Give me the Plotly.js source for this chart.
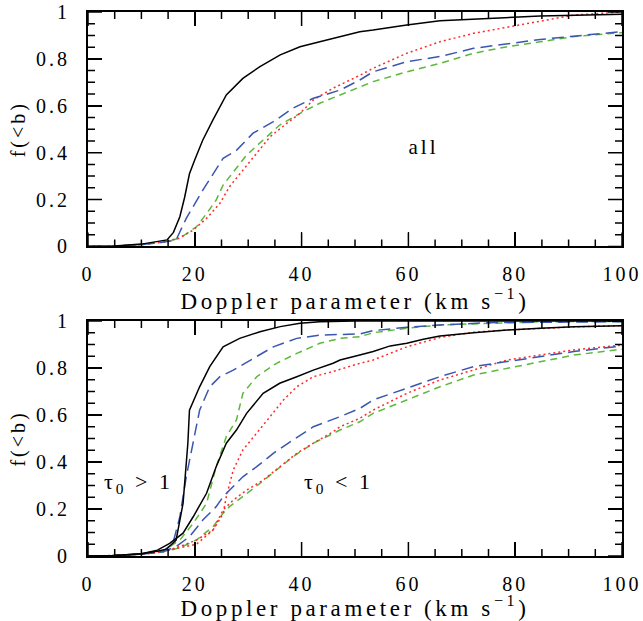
<!DOCTYPE html>
<html>
<head>
<meta charset="utf-8">
<script src="https://cdn.plot.ly/plotly-3.0.1.min.js"></script>
<style>body{margin:0;background:#fff}#chart{width:643px;height:621px}
#chart text{letter-spacing:3px}
#chart .g-xtitle text, #chart .g-x2title text{letter-spacing:3.6px}</style>
</head>
<body>
<div id="chart"></div>
<script>
// ---- Top panel ("all") ----
const allBlackX = [0,5,10,13,14.8,16,17.2,18.1,19,20,21.5,23.4,25.9,29,32.2,36,39.7,43.4,47.2,50.9,53.4,59.7,65.9,75.3,84.7,100];
const allBlackY = [0,0.002,0.01,0.02,0.028,0.06,0.127,0.21,0.31,0.37,0.454,0.54,0.646,0.717,0.767,0.817,0.852,0.873,0.895,0.916,0.923,0.945,0.963,0.973,0.983,0.99];
const allBlueX = [0,5,10,14,16.5,18.4,21.5,24,25.3,27.8,30.9,34.7,38.4,42.2,47.2,50.9,53.4,59.7,65.9,72.2,78.5,84.7,91,100];
const allBlueY = [0,0.002,0.008,0.018,0.028,0.12,0.24,0.333,0.376,0.41,0.483,0.532,0.59,0.632,0.667,0.71,0.745,0.788,0.81,0.845,0.864,0.883,0.897,0.916];
const allGreenX = [0,5,10,14,17.2,20.3,22.2,24,25.3,27.2,29.7,32.8,35.9,39.7,43.4,47.2,50.9,53.4,59.7,65.9,72.2,78.5,84.7,91,100];
const allGreenY = [0,0.002,0.008,0.018,0.035,0.084,0.14,0.198,0.262,0.319,0.39,0.454,0.518,0.568,0.611,0.646,0.679,0.703,0.745,0.781,0.824,0.852,0.873,0.895,0.912];
const allRedX = [0,5,10,14,17,19.7,22.2,24.7,26.5,29,31.6,34.1,37.2,39.7,42.2,45.9,50.9,53.4,59.7,65.9,72.2,78.5,84.7,91,100];
const allRedY = [0,0.002,0.008,0.018,0.035,0.07,0.12,0.184,0.255,0.326,0.397,0.468,0.525,0.568,0.625,0.675,0.73,0.76,0.824,0.873,0.909,0.935,0.963,0.987,1.0];

// ---- Bottom panel: tau0 > 1 ----
const hiBlackX = [0,5,10,13,14.7,16.5,17.8,18.4,18.7,19,20.9,22.8,25.3,28.4,32.2,36,39.7,43.4,50,60,100];
const hiBlackY = [0,0.002,0.01,0.02,0.029,0.068,0.224,0.38,0.48,0.62,0.72,0.806,0.89,0.926,0.954,0.976,0.99,0.997,1,1,1];
const hiBlueX = [0,5,10,14,15.9,17.2,18.4,19.7,20.9,22.8,24.7,27.2,30.9,34.7,39.1,43.4,50.9,53.4,59.7,65.9,75.3,100];
const hiBlueY = [0,0.002,0.008,0.02,0.054,0.167,0.337,0.48,0.62,0.72,0.763,0.791,0.841,0.89,0.926,0.94,0.945,0.959,0.973,0.983,0.993,0.997];
const hiGreenX = [0,5,10,14,17.2,19.7,22.2,24,25.9,27.8,29,31.6,35.3,39.1,43.4,47.2,50.9,53.4,59.7,65.9,75.3,84.7,100];
const hiGreenY = [0,0.002,0.008,0.02,0.068,0.139,0.224,0.38,0.508,0.579,0.692,0.763,0.82,0.862,0.905,0.926,0.933,0.95,0.969,0.983,0.99,0.997,0.998];
const hiRedX = [0,5,10,14,17.2,20.3,23.4,25.3,25.9,27.2,29,31.6,34.1,36.6,39.1,42.2,45.9,50.9,53.4,59.7,65.9,72.2,78.5,84.7,91,100];
const hiRedY = [0,0.002,0.008,0.018,0.04,0.068,0.11,0.18,0.252,0.366,0.451,0.522,0.593,0.664,0.72,0.763,0.785,0.82,0.834,0.89,0.93,0.952,0.962,0.968,0.975,0.98];

// ---- Bottom panel: tau0 < 1 ----
const loBlackX = [0,5,10,13,15.3,17.8,19.7,22.2,24,25.9,27.8,29.7,32.8,35.9,39.1,42.2,45.9,47.2,50.9,53.4,56.6,59.7,62.8,65.9,72.2,78.5,84.7,91,100];
const loBlackY = [0,0.002,0.01,0.025,0.054,0.097,0.167,0.267,0.38,0.48,0.536,0.607,0.692,0.735,0.763,0.791,0.82,0.834,0.855,0.87,0.894,0.905,0.922,0.936,0.95,0.962,0.969,0.976,0.98];
const loBlueX = [0,5,10,14,16.5,19,21.5,24,25.3,27.2,29,31.6,34.7,38.4,42.2,47.2,50.9,53.4,59.7,65.9,72.2,78.5,84.7,91,100];
const loBlueY = [0,0.002,0.008,0.018,0.04,0.082,0.153,0.21,0.252,0.295,0.337,0.38,0.437,0.494,0.55,0.593,0.628,0.664,0.714,0.763,0.806,0.827,0.848,0.87,0.894];
const loGreenX = [0,5,10,14,17.2,20.3,23.4,25.3,26.5,29,32.2,35.3,38.4,42.2,45.9,47.2,50.9,53.4,59.7,65.9,72.2,78.5,84.7,91,100];
const loGreenY = [0,0.002,0.008,0.018,0.035,0.068,0.125,0.182,0.21,0.252,0.309,0.366,0.423,0.48,0.522,0.536,0.571,0.607,0.664,0.72,0.77,0.799,0.827,0.855,0.88];
const loRedX = [0,5,10,14,17.2,20.3,23.4,25.3,27.2,29.7,32.8,35.9,39.1,42.2,45.9,47.2,50.9,53.4,59.7,65.9,72.2,78.5,84.7,91,100];
const loRedY = [0,0.002,0.008,0.018,0.035,0.05,0.11,0.196,0.238,0.28,0.323,0.38,0.437,0.48,0.529,0.55,0.586,0.621,0.692,0.749,0.791,0.834,0.855,0.877,0.898];

// ---- Axis ticks ----
const xMajorTicks = [0,20,40,60,80,100];
const xMinorTicks = [5,10,15,25,30,35,45,50,55,65,70,75,85,90,95];
const yMajorTicks = [0,0.2,0.4,0.6,0.8,1];
const yMinorTicks = [0.05,0.1,0.15,0.25,0.3,0.35,0.45,0.5,0.55,0.65,0.7,0.75,0.85,0.9,0.95];

const xTitle = 'Doppler parameter (km s<sup>−1</sup>)';
const yTitle = 'f(&lt;b)';
const labelAll = 'all';
const labelHi = 'τ<sub>0</sub> &gt; 1';
const labelLo = 'τ<sub>0</sub> &lt; 1';

const C = {black:'#000000', blue:'#3a56b0', green:'#5cb83a', red:'#ff2a2a'};
const S = {
  black:{color:C.black, width:1.5, dash:'solid'},
  blue:{color:C.blue, width:1.5, dash:'12px,6px'},
  green:{color:C.green, width:1.5, dash:'7px,5px'},
  red:{color:C.red, width:1.5, dash:'2px,3px'}
};
function tr(x, y, st, xa, ya){
  return {x:x, y:y, mode:'lines', line:S[st], xaxis:xa, yaxis:ya, hoverinfo:'skip', showlegend:false};
}

const W = 643, H = 621, M = {l:88, r:21, t:12, b:65};
const XR = [0,100], YR = [0,1];
const domTop = [0.569,1], domBot = [0,0.432];
const MAJ = 14, MIN = 7, TW = 1.5;

// one short line trace per tick mark, on all four sides of a panel
function tickTraces(xa, ya, dom){
  const pw = W - M.l - M.r, ph = (H - M.t - M.b) * (dom[1]-dom[0]);
  const dx = (XR[1]-XR[0]) / pw, dy = (YR[1]-YR[0]) / ph;
  const out = [];
  const seg = (x0,y0,x1,y1) => ({x:[x0,x1], y:[y0,y1], mode:'lines', line:{color:'#000', width:TW},
    xaxis:xa, yaxis:ya, hoverinfo:'skip', showlegend:false, cliponaxis:false});
  xMajorTicks.map(v=>[v,MAJ]).concat(xMinorTicks.map(v=>[v,MIN])).forEach(([v,L])=>{
    out.push(seg(v, YR[0], v, YR[0]+L*dy));
    out.push(seg(v, YR[1], v, YR[1]-L*dy));
  });
  yMajorTicks.map(v=>[v,MAJ]).concat(yMinorTicks.map(v=>[v,MIN])).forEach(([v,L])=>{
    out.push(seg(XR[0], v, XR[0]+L*dx, v));
    out.push(seg(XR[1], v, XR[1]-L*dx, v));
  });
  return out;
}

const data = [
  tr(allGreenX, allGreenY, 'green','x','y'),
  tr(allRedX, allRedY, 'red','x','y'),
  tr(allBlueX, allBlueY, 'blue','x','y'),
  tr(allBlackX, allBlackY, 'black','x','y'),
  tr(hiGreenX, hiGreenY, 'green','x2','y2'),
  tr(loGreenX, loGreenY, 'green','x2','y2'),
  tr(hiRedX, hiRedY, 'red','x2','y2'),
  tr(loRedX, loRedY, 'red','x2','y2'),
  tr(hiBlueX, hiBlueY, 'blue','x2','y2'),
  tr(loBlueX, loBlueY, 'blue','x2','y2'),
  tr(hiBlackX, hiBlackY, 'black','x2','y2'),
  tr(loBlackX, loBlackY, 'black','x2','y2')
].concat(tickTraces('x','y',domTop)).concat(tickTraces('x2','y2',domBot));

const FAM = 'Liberation Serif, Times New Roman, serif';
const tickFont = {family:FAM, size:20, color:'#000'};

function xa(anchor){
  return {anchor:anchor, range:XR, tickvals:xMajorTicks, ticks:'inside', ticklen:MAJ, tickwidth:TW,
    tickcolor:'#000', mirror:'allticks', showline:true, linewidth:2, linecolor:'#000',
    showgrid:false, zeroline:false, tickfont:tickFont, ticklabelstandoff:9,
    title:{text:xTitle, font:{family:FAM, size:23, color:'#000'}, standoff:6}};
}
function ya(anchor, dom){
  return {anchor:anchor, domain:dom, range:YR, tickvals:yMajorTicks, ticks:'inside', ticklen:MAJ, tickwidth:TW,
    tickcolor:'#000', mirror:'allticks', showline:true, linewidth:2, linecolor:'#000',
    showgrid:false, zeroline:false, tickfont:tickFont, ticklabelstandoff:12,
    title:{text:yTitle, font:{family:FAM, size:20, color:'#000'}, standoff:14}};
}

const annFont = {family:FAM, size:22, color:'#000'};
const layout = {
  width:W, height:H, paper_bgcolor:'#fff', plot_bgcolor:'#fff',
  margin:M, showlegend:false,
  xaxis:xa('y'), yaxis:ya('x',domTop),
  xaxis2:xa('y2'), yaxis2:ya('x2',domBot),
  annotations:[
    {x:62.8, y:0.424, xref:'x', yref:'y', text:labelAll, showarrow:false, font:{family:FAM, size:21, color:'#000'}},
    {x:9.5, y:0.31, xref:'x2', yref:'y2', text:labelHi, showarrow:false, font:annFont},
    {x:47, y:0.31, xref:'x2', yref:'y2', text:labelLo, showarrow:false, font:annFont}
  ]
};
Plotly.newPlot('chart', data, layout, {displayModeBar:false, staticPlot:true});
</script>
</body>
</html>
